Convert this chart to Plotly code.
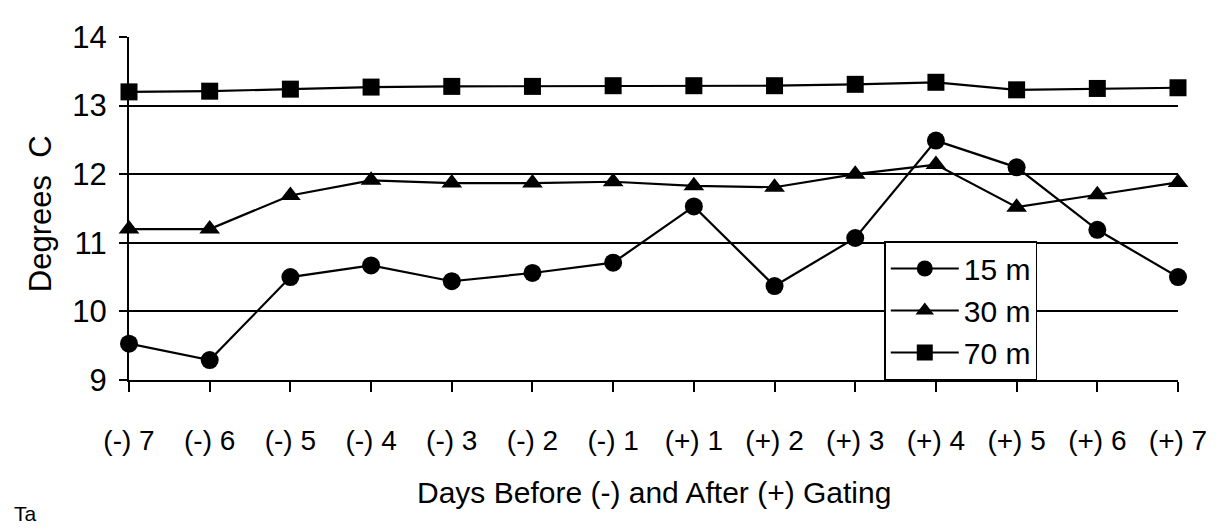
import plotly.graph_objects as go

categories = ["(-) 7", "(-) 6", "(-) 5", "(-) 4", "(-) 3", "(-) 2", "(-) 1",
              "(+) 1", "(+) 2", "(+) 3", "(+) 4", "(+) 5", "(+) 6", "(+) 7"]
temp_15m = [9.53, 9.29, 10.50, 10.67, 10.44, 10.56, 10.71, 11.53, 10.37, 11.07, 12.49, 12.10, 11.19, 10.50]
temp_30m = [11.20, 11.20, 11.69, 11.91, 11.87, 11.87, 11.89, 11.83, 11.81, 12.00, 12.14, 11.52, 11.70, 11.88]
temp_70m = [13.20, 13.21, 13.24, 13.27, 13.28, 13.28, 13.29, 13.29, 13.29, 13.31, 13.34, 13.23, 13.25, 13.26]
y_ticks = [9, 10, 11, 12, 13, 14]

FONT = "Arial, Liberation Sans, sans-serif"

fig = go.Figure()
series = [("15 m", temp_15m, "circle", 18), ("30 m", temp_30m, "triangle-up", 18), ("70 m", temp_70m, "square", 17)]
for name, vals, sym, sz in series:
    fig.add_trace(go.Scatter(
        x=categories, y=vals, name=name, mode="lines+markers",
        line=dict(color="black", width=2.2),
        marker=dict(symbol=sym, size=sz, color="black"),
        cliponaxis=False,
    ))

fig.update_layout(
    width=1213, height=522,
    margin=dict(l=121, r=43, t=22, b=150),
    paper_bgcolor="white", plot_bgcolor="white",
    showlegend=True,
    legend=dict(
        x=0.72, y=0, xanchor="left", yanchor="bottom",
        bgcolor="white", bordercolor="black", borderwidth=1.5,
        font=dict(family=FONT, size=30, color="black"),
        itemwidth=68, tracegroupgap=0,
    ),
    xaxis=dict(
        type="category", range=[0, 13],
        showline=True, linecolor="black", linewidth=2,
        ticks="outside", ticklen=10, tickwidth=1.5, tickcolor="black",
        tickfont=dict(family=FONT, size=28, color="black"),
        ticklabelstandoff=24,
        showgrid=False, zeroline=False,
    ),
    yaxis=dict(
        range=[9, 14], tickvals=y_ticks,
        showline=True, linecolor="black", linewidth=2,
        ticks="outside", ticklen=8, tickwidth=1.5, tickcolor="black",
        tickfont=dict(family=FONT, size=31, color="black"),
        ticklabelstandoff=6,
        showgrid=True, gridcolor="black", gridwidth=1.5,
        zeroline=False,
    ),
    annotations=[
        dict(text="Days Before (-) and After (+) Gating", xref="paper", yref="paper",
             x=0.5, y=-0.329, xanchor="center", yanchor="middle", showarrow=False,
             font=dict(family=FONT, size=30, color="black")),
        dict(text="Degrees  C", xref="paper", yref="paper", textangle=-90,
             x=-0.085, y=0.486, xanchor="center", yanchor="middle", showarrow=False,
             font=dict(family=FONT, size=31, color="black")),
        dict(text="Ta", xref="paper", yref="paper",
             x=-0.112, y=-0.39, xanchor="left", yanchor="middle", showarrow=False,
             font=dict(family=FONT, size=21, color="black")),
    ],
)

fig.write_html("out.html")
